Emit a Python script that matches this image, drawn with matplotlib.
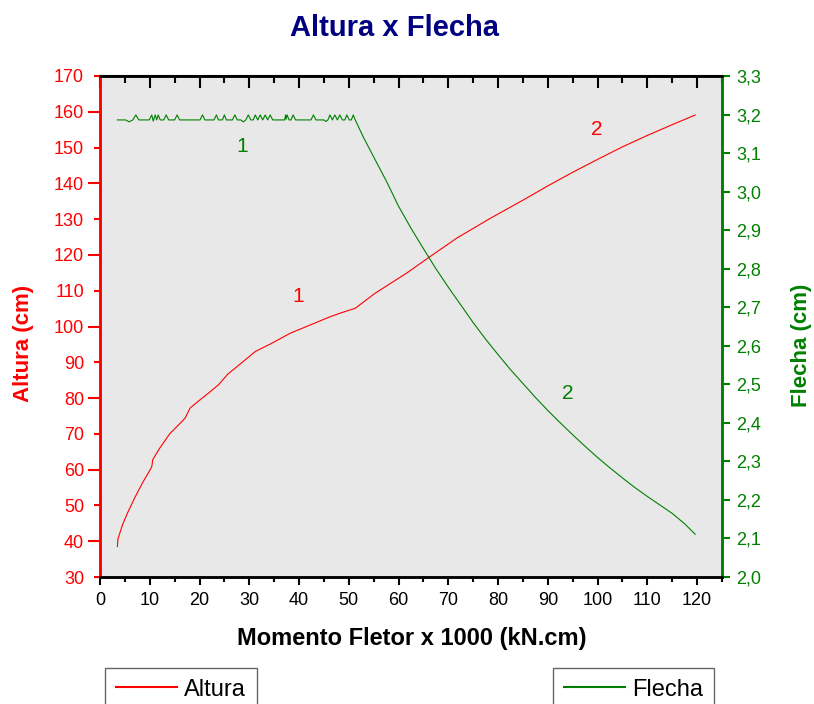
import matplotlib
matplotlib.use("Agg")
import matplotlib.pyplot as plt
from matplotlib.ticker import MultipleLocator, FixedLocator, FormatStrFormatter, FuncFormatter

plt.rcParams['font.family'] = ['Liberation Sans', 'DejaVu Sans']

# Altura (cm) vs momento fletor x 1000 (kN.cm)
altura_x = [3.5, 3.6, 4.5, 5.5, 7.0, 8.5, 10.0, 10.4, 10.6, 12.0, 14.0, 16.0, 17.1, 18.1, 20.0,
            22.0, 23.8, 25.7, 27.8, 31.2, 34.5, 38.2, 42.2, 46.2, 48.2, 51.3, 55.3, 61.6,
            66.3, 71.7, 78.4, 85.0, 90.0, 95.0, 100.0, 105.0, 110.0, 115.0, 119.6]
altura_y = [38.5, 40.6, 44.5, 47.8, 52.2, 56.2, 59.8, 60.8, 62.8, 66.0, 70.0, 72.8, 74.4, 77.2, 79.4,
            81.6, 83.7, 86.7, 89.1, 93.0, 95.3, 98.1, 100.4, 102.7, 103.7, 105.1, 109.3, 114.9,
            119.5, 124.7, 130.2, 135.3, 139.3, 143.1, 146.7, 150.2, 153.4, 156.4, 159.1]

# Flecha (cm) vs momento fletor
flecha_x = [3.5, 5.2, 5.8, 6.6, 7.2, 7.8, 9.9, 10.4, 10.7, 11.1, 11.4, 11.7, 12.1, 12.8, 13.3,
            13.8, 15.0, 15.5, 16.0, 20.1, 20.6, 21.1, 22.9, 23.4, 23.8, 24.6, 25.0, 25.4, 26.6,
            27.1, 27.6, 28.3, 28.8, 29.3, 29.8, 30.3, 30.8, 31.2, 31.7, 32.2, 32.7, 33.2, 33.7,
            34.2, 34.7, 37.1, 37.3, 37.4, 37.6, 38.0, 38.4, 38.8, 39.3, 42.4, 42.9, 43.4, 45.0,
            45.4, 45.8, 46.2, 46.7, 47.2, 47.7, 48.2, 48.7, 49.2, 49.6, 50.1, 50.5, 50.9, 51.3,
            52.9, 55.0, 57.6, 60.0, 62.5, 65.0, 67.5, 70.0, 72.5, 75.0, 77.5, 80.0, 82.5, 85.0,
            87.5, 90.0, 92.5, 95.0, 97.5, 100.0, 102.5, 105.0, 107.5, 110.0, 112.5, 115.0,
            117.5, 119.6]
flecha_y = [3.186, 3.186, 3.181, 3.186, 3.199, 3.186, 3.186, 3.199, 3.183, 3.199, 3.186, 3.199, 3.186, 3.186, 3.199,
            3.186, 3.186, 3.199, 3.186, 3.186, 3.199, 3.186, 3.186, 3.199, 3.186, 3.186, 3.199, 3.186, 3.186,
            3.199, 3.186, 3.186, 3.181, 3.186, 3.199, 3.186, 3.186, 3.199, 3.186, 3.199, 3.186, 3.199, 3.186,
            3.199, 3.186, 3.186, 3.199, 3.188, 3.199, 3.186, 3.186, 3.199, 3.186, 3.186, 3.199, 3.186, 3.186,
            3.182, 3.186, 3.199, 3.186, 3.199, 3.186, 3.199, 3.186, 3.186, 3.199, 3.186, 3.186, 3.199, 3.186,
            3.142, 3.090, 3.026, 2.962, 2.905, 2.852, 2.800, 2.752, 2.706, 2.660, 2.617, 2.577, 2.538, 2.502,
            2.466, 2.432, 2.400, 2.369, 2.339, 2.310, 2.283, 2.257, 2.232, 2.209, 2.187, 2.165,
            2.138, 2.111]

RED = '#ff0000'
GREEN = '#008000'
W, H = 814, 704

fig = plt.figure(figsize=(W / 100, H / 100), dpi=100)
ax = fig.add_axes([100 / W, 1 - 577 / H, 622 / W, 501 / H])
ax.set_facecolor('#e8e8e8')
ax2 = ax.twinx()

l1, = ax.plot(altura_x, altura_y, color=RED, lw=0.8, label='Altura')
l2, = ax2.plot(flecha_x, flecha_y, color=GREEN, lw=0.8, label='Flecha')

ax.set_xlim(0, 125)
ax.set_ylim(30, 170)
ax2.set_ylim(2.0, 3.3)

# x axis: outward at bottom, inward on top
ax.xaxis.set_major_locator(MultipleLocator(10))
ax.xaxis.set_minor_locator(MultipleLocator(5))
ax.tick_params(axis='x', which='major', direction='out', length=6, width=1.5, labelsize=13, pad=5)
ax.tick_params(axis='x', which='minor', direction='out', length=3.5, width=1.5)
top = ax.secondary_xaxis('top')
top.xaxis.set_major_locator(MultipleLocator(10))
top.xaxis.set_minor_locator(MultipleLocator(5))
top.tick_params(which='major', direction='in', length=8.5, width=1.5, labeltop=False)
top.tick_params(which='minor', direction='in', length=5, width=1.5)
top.spines['top'].set_linewidth(1.5)

# left axis (red)
ax.yaxis.set_major_locator(MultipleLocator(20))
ax.yaxis.set_minor_locator(FixedLocator([30, 50, 70, 90, 110, 130, 150, 170]))
ax.yaxis.set_minor_formatter(FormatStrFormatter('%d'))
ax.tick_params(axis='y', which='major', length=8.5, width=1.5, color=RED, labelcolor=RED, labelsize=13, pad=3)
ax.tick_params(axis='y', which='minor', length=4.5, width=1.5, color=RED, labelcolor=RED, labelsize=13, pad=7)

# right axis (green)
ax2.yaxis.set_major_locator(MultipleLocator(0.1))
ax2.yaxis.set_major_formatter(FuncFormatter(lambda v, p: f'{v:.1f}'.replace('.', ',')))
ax2.tick_params(axis='y', length=6, width=1.5, color=GREEN, labelcolor=GREEN, labelsize=13, pad=4)

for a in (ax, ax2):
    a.spines['left'].set_color(RED)
    a.spines['right'].set_color(GREEN)
    for s in a.spines.values():
        s.set_linewidth(1.8)

ax.text(39.8, 108.3, '1', color=RED, fontsize=15, ha='center', va='center')
ax.text(99.9, 155, '2', color=RED, fontsize=15, ha='center', va='center')
ax2.text(28.5, 3.116, '1', color=GREEN, fontsize=15, ha='center', va='center')
ax2.text(94.1, 2.477, '2', color=GREEN, fontsize=15, ha='center', va='center')

fig.text(395 / W, 1 - 28 / H, 'Altura x Flecha', ha='center', va='center',
         fontsize=21, weight='bold', color='#000080')
fig.text(412 / W, 1 - 638 / H, 'Momento Fletor x 1000 (kN.cm)', ha='center', va='center',
         fontsize=17, weight='bold')
fig.text(23 / W, 1 - 343 / H, 'Altura (cm)', rotation=90, ha='center', va='center',
         fontsize=16, weight='bold', color=RED)
fig.text(801 / W, 1 - 345 / H, 'Flecha (cm)', rotation=90, ha='center', va='center',
         fontsize=16, weight='bold', color=GREEN)

legend_kw = dict(fontsize=17, frameon=True, fancybox=False, edgecolor='#404040',
                 borderpad=0.45, handlelength=2.6, handletextpad=0.3, borderaxespad=0)
leg1 = fig.legend(handles=[l1], loc='upper left', bbox_to_anchor=(105 / W, 36 / H), **legend_kw)
leg2 = fig.legend(handles=[l2], loc='upper left', bbox_to_anchor=(553 / W, 36 / H), **legend_kw)
for leg in (leg1, leg2):
    leg.get_frame().set_linewidth(1.0)
    for ln in leg.get_lines():
        ln.set_linewidth(1.5)

fig.savefig('out.png', dpi=100)
